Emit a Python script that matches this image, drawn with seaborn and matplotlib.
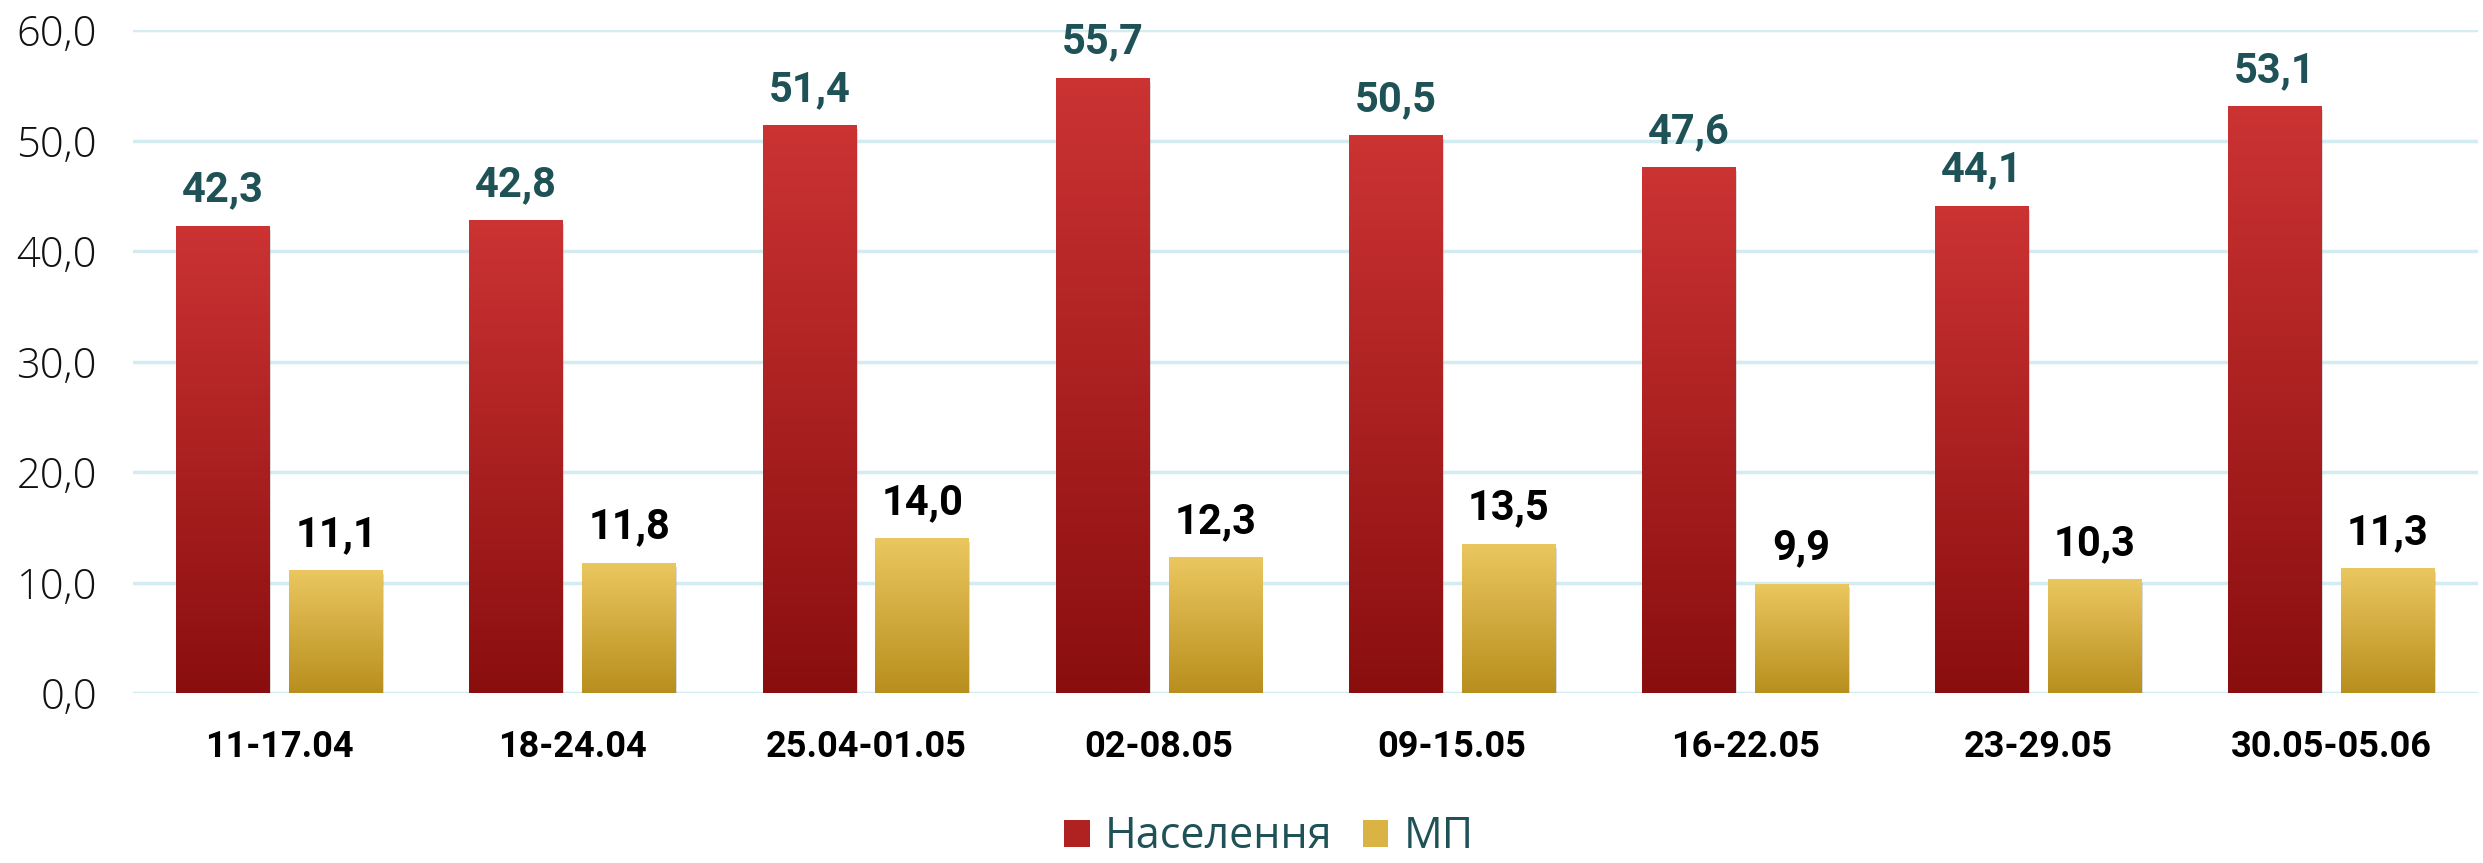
import numpy as np
import pandas as pd
import matplotlib
matplotlib.use("Agg")
import matplotlib.pyplot as plt
import seaborn as sns
from matplotlib.patches import Patch
from matplotlib.colors import LinearSegmentedColormap

categories = ["11-17.04", "18-24.04", "25.04-01.05", "02-08.05",
              "09-15.05", "16-22.05", "23-29.05", "30.05-05.06"]
population = [42.3, 42.8, 51.4, 55.7, 50.5, 47.6, 44.1, 53.1]
mp = [11.1, 11.8, 14.0, 12.3, 13.5, 9.9, 10.3, 11.3]
series_names = ["Населення", "МП"]
yticks = [0, 10, 20, 30, 40, 50, 60]

sns.set_theme(style="white")
plt.rcParams['font.family'] = ['DejaVu Sans']

df = pd.DataFrame({
    "week": categories * 2,
    "value": population + mp,
    "series": [series_names[0]] * len(categories) + [series_names[1]] * len(categories),
})

red_top, red_bot = "#CC3333", "#8A0E0F"
gold_top, gold_bot = "#EBC760", "#B88F1D"
teal = "#1F5256"

fig = plt.figure(figsize=(24.83, 8.63), dpi=100)
ax = fig.add_axes([0.0536, 0.197, 0.9444, 0.768])

sns.barplot(data=df, x="week", y="value", hue="series", order=categories,
            hue_order=series_names, palette=[red_top, gold_top],
            width=0.77, gap=0.169, ax=ax, legend=False, zorder=3)

ax.set_xlim(-0.5, len(categories) - 0.5)
ax.set_ylim(0, 60)
ax.set_yticks(yticks)
ax.set_yticklabels([f"{v:.1f}".replace(".", ",") for v in yticks],
                   fontsize=30, color="#111111",
                   family=["Open Sans", "DejaVu Sans"], fontweight="light")
ax.set_xticklabels(categories, fontsize=26, fontweight="bold", color="black",
                   family=["Roboto", "DejaVu Sans"])
ax.tick_params(axis="x", pad=26, length=0)
ax.tick_params(axis="y", pad=26, length=0)
ax.set_xlabel("")
ax.set_ylabel("")
for s in ax.spines.values():
    s.set_visible(False)
ax.yaxis.grid(True, color="#D3ECF2", linewidth=2.5, zorder=0)
ax.set_axisbelow(True)

cmaps = [LinearSegmentedColormap.from_list("r", [red_bot, red_top]),
         LinearSegmentedColormap.from_list("g", [gold_bot, gold_top])]
grad = np.linspace(0, 1, 256).reshape(-1, 1)

n = len(categories)
patches = list(ax.patches)
for i, p in enumerate(patches[:2 * n]):
    si = 0 if i < n else 1
    x0, y0 = p.get_x(), p.get_y()
    w, h = p.get_width(), p.get_height()
    # shadow
    ax.add_patch(plt.Rectangle((x0 + 0.004, y0 - 0.35), w, h, color="#999999",
                               alpha=0.35, zorder=2, lw=0))
    p.set_edgecolor("none")
    im = ax.imshow(grad, cmap=cmaps[si], aspect="auto",
                   extent=[x0, x0 + w, y0, y0 + h], origin="lower", zorder=4)
    im.set_clip_path(p)
    val = h
    lab = f"{val:.1f}".replace(".", ",")
    ax.annotate(lab, (x0 + w / 2, y0 + h), xytext=(0, 11), textcoords="offset points",
                ha="center", va="bottom", fontsize=30, fontweight="bold",
                color=teal if si == 0 else "black",
                family=["Roboto", "DejaVu Sans"], zorder=5)

ax.set_ylim(0, 60)
ax.set_xlim(-0.5, n - 0.5)

handles = [Patch(facecolor="#B02222", edgecolor="none"),
           Patch(facecolor="#D9B444", edgecolor="none")]
leg = fig.legend(handles, series_names, loc="center", bbox_to_anchor=(0.511, 0.03),
                 ncol=2, frameon=False, prop={"family": ["Open Sans", "DejaVu Sans"], "size": 31},
                 handlelength=0.6, handleheight=0.6,
                 handletextpad=0.35, columnspacing=0.7, borderpad=0.1)
for t in leg.get_texts():
    t.set_color(teal)

fig.savefig("out.png", dpi=100)
